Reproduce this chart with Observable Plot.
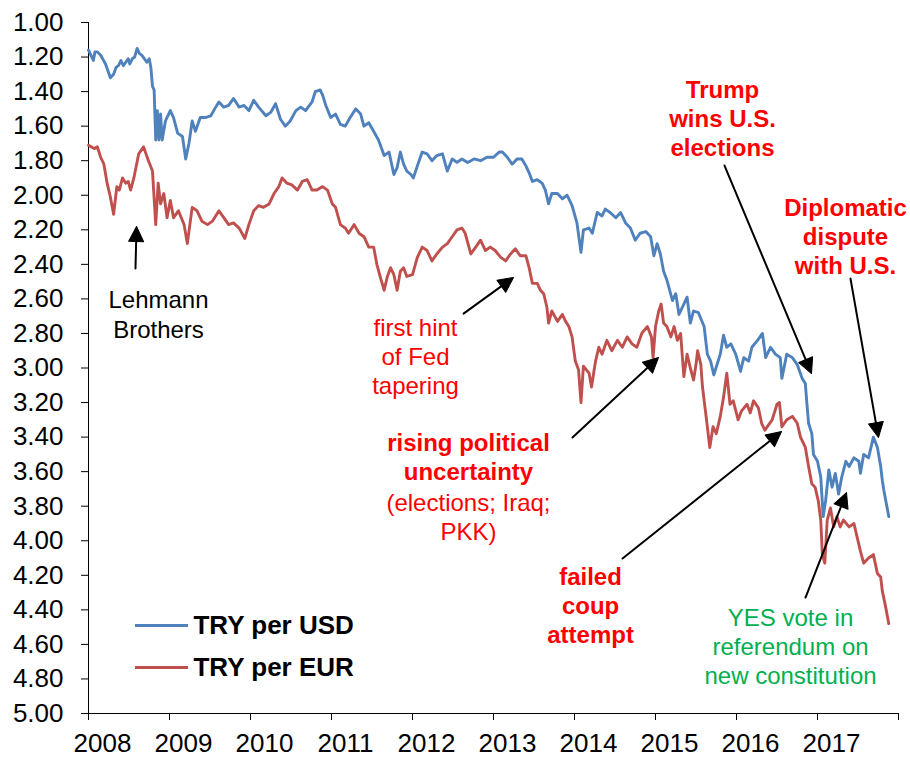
<!DOCTYPE html>
<html>
<head>
<meta charset="utf-8">
<script src="https://cdn.jsdelivr.net/npm/d3@7"></script>
<script src="https://cdn.jsdelivr.net/npm/@observablehq/plot@0.6"></script>
<style>
  html, body { margin: 0; padding: 0; background: #fff; }
  #chart { width: 910px; height: 757px; }
</style>
</head>
<body>
<div id="chart"></div>
<script>
// ---------------- data ----------------
// [decimal year, TRY per USD]
const usdSeries = [
  [2008.00,1.16],[2008.03,1.19],[2008.06,1.22],[2008.08,1.17],[2008.11,1.17],[2008.15,1.19],[2008.21,1.24],
  [2008.27,1.32],[2008.31,1.30],[2008.34,1.26],[2008.37,1.25],[2008.40,1.22],[2008.43,1.25],[2008.46,1.23],
  [2008.49,1.21],[2008.51,1.24],[2008.54,1.21],[2008.57,1.20],[2008.60,1.15],[2008.63,1.18],[2008.66,1.19],
  [2008.72,1.23],[2008.75,1.21],[2008.77,1.26],
  [2008.79,1.37],[2008.81,1.39],[2008.83,1.68],[2008.85,1.51],[2008.87,1.68],[2008.89,1.53],[2008.91,1.68],
  [2008.95,1.57],[2009.01,1.51],[2009.05,1.55],[2009.10,1.64],[2009.16,1.66],[2009.20,1.79],[2009.24,1.70],
  [2009.28,1.57],[2009.32,1.63],[2009.38,1.55],[2009.44,1.55],[2009.51,1.54],[2009.57,1.49],[2009.61,1.46],
  [2009.67,1.49],[2009.73,1.48],[2009.79,1.44],[2009.86,1.49],[2009.92,1.48],[2009.98,1.51],[2010.04,1.45],
  [2010.10,1.49],[2010.19,1.54],[2010.25,1.52],[2010.31,1.47],[2010.37,1.56],[2010.43,1.60],[2010.49,1.57],
  [2010.56,1.51],[2010.62,1.49],[2010.68,1.51],[2010.76,1.46],[2010.80,1.40],[2010.86,1.39],[2010.89,1.42],
  [2010.93,1.48],[2010.99,1.55],[2011.05,1.53],[2011.11,1.59],[2011.17,1.60],[2011.23,1.55],[2011.30,1.50],
  [2011.36,1.53],[2011.40,1.60],[2011.46,1.58],[2011.52,1.63],[2011.58,1.68],[2011.65,1.77],[2011.71,1.75],
  [2011.77,1.88],[2011.81,1.84],[2011.85,1.75],[2011.89,1.82],[2011.93,1.86],[2011.98,1.88],[2012.01,1.90],
  [2012.06,1.83],[2012.12,1.75],[2012.18,1.76],[2012.24,1.80],[2012.30,1.77],[2012.37,1.76],[2012.43,1.86],
  [2012.49,1.79],[2012.55,1.81],[2012.61,1.79],[2012.68,1.81],[2012.76,1.79],[2012.84,1.80],[2012.92,1.78],
  [2013.00,1.78],[2013.07,1.75],[2013.11,1.75],[2013.17,1.78],[2013.23,1.82],[2013.29,1.79],[2013.35,1.79],
  [2013.40,1.83],[2013.44,1.87],[2013.48,1.92],[2013.54,1.91],[2013.60,1.93],[2013.64,1.97],[2013.68,2.05],
  [2013.72,1.99],[2013.79,1.99],[2013.85,2.02],[2013.91,2.00],[2013.97,2.06],[2014.03,2.16],[2014.08,2.33],
  [2014.11,2.20],[2014.18,2.19],[2014.22,2.22],[2014.28,2.10],[2014.34,2.12],[2014.38,2.08],[2014.44,2.10],
  [2014.51,2.13],[2014.57,2.10],[2014.63,2.16],[2014.69,2.19],[2014.75,2.26],[2014.81,2.22],[2014.88,2.21],
  [2014.94,2.24],[2014.98,2.35],[2015.02,2.28],[2015.06,2.34],[2015.10,2.44],[2015.14,2.49],[2015.21,2.61],
  [2015.25,2.57],[2015.29,2.69],[2015.35,2.63],[2015.39,2.59],[2015.43,2.74],[2015.47,2.67],[2015.53,2.68],
  [2015.60,2.76],[2015.64,2.92],[2015.68,2.96],[2015.72,3.04],[2015.76,2.98],[2015.80,2.92],[2015.84,2.81],
  [2015.88,2.88],[2015.93,2.86],[2015.99,2.92],[2016.05,3.02],[2016.09,2.94],[2016.15,2.96],[2016.19,2.88],
  [2016.26,2.84],[2016.32,2.80],[2016.36,2.94],[2016.42,2.88],[2016.48,2.92],[2016.54,2.94],[2016.56,3.06],
  [2016.62,2.92],[2016.69,2.94],[2016.75,2.98],[2016.81,3.06],[2016.85,3.09],[2016.87,3.21],[2016.89,3.32],
  [2016.93,3.38],[2016.95,3.50],[2017.00,3.54],[2017.04,3.63],[2017.07,3.86],[2017.10,3.77],[2017.14,3.59],
  [2017.18,3.69],[2017.22,3.61],[2017.26,3.73],[2017.30,3.63],[2017.35,3.54],[2017.39,3.57],[2017.45,3.52],
  [2017.51,3.54],[2017.53,3.61],[2017.57,3.50],[2017.63,3.52],[2017.69,3.40],[2017.74,3.46],[2017.78,3.57],
  [2017.80,3.65],[2017.82,3.71],[2017.86,3.81],[2017.88,3.86]
];
// [decimal year, TRY per EUR]
const eurSeries = [
  [2008.00,1.71],[2008.07,1.73],[2008.11,1.72],[2008.15,1.78],[2008.19,1.82],[2008.23,1.93],[2008.27,2.01],
  [2008.31,2.11],[2008.35,1.95],[2008.38,1.97],[2008.42,1.90],[2008.46,1.93],[2008.49,1.92],[2008.52,1.97],
  [2008.56,1.90],[2008.62,1.76],[2008.65,1.74],
  [2008.68,1.72],[2008.74,1.80],[2008.79,1.86],[2008.83,2.17],[2008.86,1.93],[2008.89,2.05],[2008.93,1.99],
  [2008.97,2.13],[2009.01,2.03],[2009.05,2.13],[2009.11,2.09],[2009.18,2.17],[2009.22,2.28],[2009.28,2.07],
  [2009.34,2.09],[2009.40,2.15],[2009.47,2.17],[2009.53,2.15],[2009.61,2.09],[2009.67,2.13],[2009.73,2.17],
  [2009.79,2.16],[2009.86,2.19],[2009.93,2.25],[2009.98,2.17],[2010.04,2.09],[2010.10,2.06],[2010.16,2.07],
  [2010.23,2.05],[2010.29,1.99],[2010.35,1.95],[2010.39,1.90],[2010.45,1.93],[2010.51,1.94],[2010.58,1.97],
  [2010.64,1.92],[2010.70,1.91],[2010.76,1.97],[2010.82,1.97],[2010.89,1.95],[2010.95,1.97],[2011.01,2.05],
  [2011.05,2.07],[2011.11,2.17],[2011.17,2.19],[2011.21,2.22],[2011.28,2.17],[2011.34,2.22],[2011.40,2.24],
  [2011.46,2.30],[2011.52,2.30],[2011.56,2.40],[2011.60,2.47],[2011.65,2.55],[2011.69,2.47],[2011.73,2.42],
  [2011.77,2.46],[2011.81,2.55],[2011.85,2.44],[2011.89,2.42],[2011.93,2.47],[2012.00,2.46],[2012.06,2.36],
  [2012.12,2.30],[2012.18,2.32],[2012.24,2.38],[2012.30,2.34],[2012.37,2.30],[2012.43,2.28],[2012.49,2.24],
  [2012.55,2.20],[2012.61,2.19],[2012.65,2.22],[2012.72,2.34],[2012.78,2.30],[2012.84,2.26],[2012.90,2.32],
  [2012.96,2.30],[2013.02,2.32],[2013.09,2.36],[2013.15,2.38],[2013.21,2.34],[2013.27,2.31],[2013.33,2.35],
  [2013.40,2.35],[2013.44,2.42],[2013.48,2.51],[2013.54,2.51],[2013.58,2.55],[2013.62,2.57],[2013.66,2.65],
  [2013.68,2.74],[2013.72,2.67],[2013.79,2.73],[2013.85,2.69],[2013.89,2.73],[2013.93,2.76],[2013.97,2.82],
  [2014.01,2.96],[2014.05,3.01],[2014.08,3.20],[2014.11,2.99],[2014.18,3.03],[2014.21,3.11],[2014.26,2.96],
  [2014.30,2.88],[2014.34,2.92],[2014.40,2.84],[2014.46,2.90],[2014.53,2.84],[2014.59,2.88],[2014.65,2.82],
  [2014.71,2.86],[2014.77,2.88],[2014.83,2.80],[2014.90,2.76],[2014.95,2.82],[2014.97,2.94],[2015.00,2.76],
  [2015.04,2.67],[2015.07,2.63],[2015.10,2.74],[2015.14,2.76],[2015.19,2.82],[2015.23,2.76],[2015.27,2.84],
  [2015.31,2.80],[2015.35,3.05],[2015.39,2.92],[2015.43,3.00],[2015.47,3.07],[2015.50,2.98],[2015.52,2.90],
  [2015.56,2.98],[2015.58,3.11],[2015.63,3.30],[2015.67,3.46],[2015.71,3.34],[2015.75,3.38],[2015.80,3.28],
  [2015.84,3.17],[2015.88,3.03],[2015.92,3.21],[2015.96,3.19],[2016.02,3.30],[2016.06,3.25],[2016.13,3.21],
  [2016.17,3.26],[2016.21,3.19],[2016.27,3.23],[2016.31,3.32],[2016.35,3.36],[2016.44,3.30],[2016.50,3.21],
  [2016.53,3.20],[2016.56,3.34],[2016.62,3.30],[2016.69,3.28],[2016.75,3.32],[2016.79,3.40],[2016.85,3.46],
  [2016.89,3.57],[2016.93,3.67],[2016.97,3.69],[2017.01,3.77],[2017.04,3.88],[2017.06,4.08],[2017.09,4.13],
  [2017.12,3.88],[2017.16,3.81],[2017.20,3.92],[2017.24,3.86],[2017.28,3.92],[2017.32,3.88],[2017.39,3.92],
  [2017.45,3.90],[2017.49,3.98],[2017.53,4.06],[2017.57,4.13],[2017.63,4.10],[2017.69,4.08],[2017.74,4.19],
  [2017.78,4.21],[2017.80,4.29],[2017.84,4.38],[2017.88,4.48]
];

const seriesNames = ["TRY per USD", "TRY per EUR"];
const seriesColors = ["#4F81BD", "#C0504D"];

const yTicks = [1.00,1.20,1.40,1.60,1.80,2.00,2.20,2.40,2.60,2.80,3.00,3.20,3.40,3.60,3.80,4.00,4.20,4.40,4.60,4.80,5.00];
const xTicks = [2008,2009,2010,2011,2012,2013,2014,2015,2016,2017,2018];
const yearLabels = [2008,2009,2010,2011,2012,2013,2014,2015,2016,2017];

// annotations, positioned in data units (decimal year, rate)
const notesBoldRed = [
  {text: "Trump\nwins U.S.\nelections", x: 2015.827, y: 1.550},
  {text: "Diplomatic\ndispute\nwith U.S.", x: 2017.346, y: 2.233},
  {text: "rising political\nuncertainty", x: 2012.691, y: 3.512},
  {text: "failed\ncoup\nattempt", x: 2014.198, y: 4.369}
];
const notesRed = [
  {text: "first hint\nof Fed\ntapering", x: 2012.037, y: 2.928},
  {text: "(elections; Iraq;\nPKK)", x: 2012.691, y: 3.857}
];
const notesBlack = [{text: "Lehmann\nBrothers", x: 2008.864, y: 2.685}];
const notesGreen = [{text: "YES vote in\nreferendum on\nnew constitution", x: 2016.667, y: 4.607}];

const arrows = [
  {x1: 2008.580, y1: 2.424, x2: 2008.593, y2: 2.181}, // Lehmann
  {x1: 2012.630, y1: 2.685, x2: 2013.247, y2: 2.476}, // Fed tapering
  {x1: 2013.975, y1: 3.402, x2: 2015.037, y2: 2.939}, // political uncertainty
  {x1: 2014.593, y1: 4.103, x2: 2016.556, y2: 3.368}, // failed coup
  {x1: 2015.852, y1: 1.828, x2: 2016.926, y2: 3.032}, // Trump
  {x1: 2017.407, y1: 2.482, x2: 2017.753, y2: 3.402}, // diplomatic dispute
  {x1: 2016.852, y1: 4.329, x2: 2017.358, y2: 3.721}  // YES vote
];

// legend rows (data units)
const legendRows = [
  {name: seriesNames[0], color: seriesColors[0], y: 4.491},
  {name: seriesNames[1], color: seriesColors[1], y: 4.734}
];
const legendX = [2008.580, 2009.235, 2009.296];

// ---------------- layout ----------------
const W = 910, H = 757, ML = 88, MR = 12, MT = 22, MB = 44;
const xDomain = [2008, 2018], yDomain = [1, 5];
const FONT = "'Liberation Sans', Arial, Helvetica, sans-serif";

const usd = usdSeries.map(([t, v]) => ({t, v, s: seriesNames[0]}));
const eur = eurSeries.map(([t, v]) => ({t, v, s: seriesNames[1]}));

// pixel-space angle of each arrow (same mapping as the plot scales)
const px = d3.scaleLinear(xDomain, [ML, W - MR]);
const py = d3.scaleLinear(yDomain, [MT, H - MB]);
const arrowAngle = (d) => {
  const dx = px(d.x2) - px(d.x1), dy = py(d.y2) - py(d.y1);
  return Math.atan2(dx, -dy) * 180 / Math.PI;
};
const headShape = {
  draw(ctx, l) {
    ctx.moveTo(0, -l);
    ctx.lineTo(-7.5, -l + 15);
    ctx.lineTo(7.5, -l + 15);
    ctx.closePath();
  }
};

const fs = 24;
const chart = Plot.plot({
  width: W, height: H,
  marginLeft: ML, marginRight: MR, marginTop: MT, marginBottom: MB,
  x: {domain: xDomain},
  y: {domain: yDomain, reverse: true},
  style: {fontFamily: FONT, color: "#000", background: "#fff", overflow: "visible"},
  marks: [
    Plot.axisY({ticks: yTicks, tickFormat: d => d.toFixed(2), tickSize: 7, tickPadding: 18,
                fontSize: 26, label: null, stroke: "#000"}),
    Plot.axisX({ticks: xTicks, tickFormat: () => "", tickSize: 7, label: null, stroke: "#000"}),
    Plot.text(yearLabels, {x: d => d, y: yDomain[1], dx: 14, dy: 30, text: d => String(d),
                           fontSize: 26, fill: "#000"}),
    Plot.ruleX([xDomain[0]], {stroke: "#000", strokeWidth: 1}),
    Plot.ruleY([yDomain[1]], {stroke: "#000", strokeWidth: 1}),

    Plot.line(usd, {x: "t", y: "v", stroke: seriesColors[0], strokeWidth: 2.9, strokeLinejoin: "round"}),
    Plot.line(eur, {x: "t", y: "v", stroke: seriesColors[1], strokeWidth: 2.9, strokeLinejoin: "round"}),

    // legend
    Plot.ruleY(legendRows, {y: "y", x1: legendX[0], x2: legendX[1], stroke: "color", strokeWidth: 3}),
    Plot.text(legendRows, {x: legendX[2], y: "y", text: "name", textAnchor: "start",
                           fontWeight: "bold", fontSize: 26, fill: "#000"}),

    // arrows
    Plot.arrow(arrows, {x1: "x1", y1: "y1", x2: "x2", y2: "y2", headLength: 0,
                        insetEnd: 8, stroke: "#000", strokeWidth: 2}),
    Plot.vector(arrows, {x: "x2", y: "y2", rotate: arrowAngle, length: 15, anchor: "end",
                         shape: headShape, fill: "#000", stroke: "#000", strokeWidth: 1}),

    // annotation texts
    Plot.text(notesBoldRed, {x: "x", y: "y", text: "text", fill: "#FF0000", fontWeight: "bold",
                             fontSize: fs, lineHeight: 1.22}),
    Plot.text(notesRed, {x: "x", y: "y", text: "text", fill: "#FF0000", fontSize: fs, lineHeight: 1.22}),
    Plot.text(notesBlack, {x: "x", y: "y", text: "text", fill: "#000", fontSize: fs, lineHeight: 1.25}),
    Plot.text(notesGreen, {x: "x", y: "y", text: "text", fill: "#00B050", fontSize: fs, lineHeight: 1.2})
  ]
});
document.getElementById("chart").appendChild(chart);
</script>
</body>
</html>
